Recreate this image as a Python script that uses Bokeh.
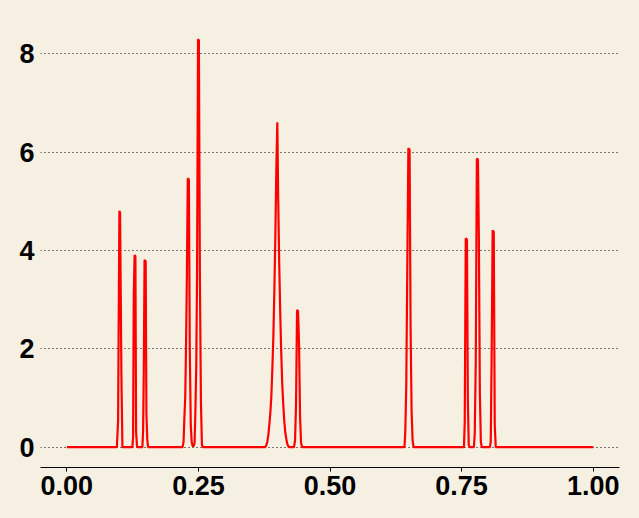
from bokeh.plotting import figure
from bokeh.models import Range1d, FixedTicker
from bokeh.embed import file_html
from bokeh.resources import INLINE

# ---- data (x in [0,1], y = signal value) ----
x_start = [0.0]
y_start = [0.0]

x_a = [0.0951, 0.0974, 0.0999, 0.1012, 0.1037, 0.1056]
y_a = [0.0, 0.53, 4.81, 4.76, 1.47, 0.0]

x_b = [0.1246, 0.1259, 0.1272, 0.1288, 0.1303, 0.1316, 0.1335]
y_b = [0.0, 0.21, 3.10, 3.91, 3.88, 0.31, 0.0]

x_c = [0.1436, 0.1449, 0.1462, 0.1477, 0.1498, 0.1512, 0.1529, 0.1544]
y_c = [0.0, 0.33, 1.50, 3.81, 3.78, 0.69, 0.14, 0.0]

x_d = [0.2199, 0.2218, 0.2233, 0.2250, 0.2266, 0.2281, 0.2298, 0.2319,
       0.2336, 0.2355, 0.2372, 0.2389]
y_d = [0.0, 0.11, 0.58, 1.02, 2.14, 3.50, 5.47, 5.44, 1.98, 0.45, 0.11, 0.02]

x_e = [0.2408, 0.2427, 0.2442, 0.2459, 0.2474, 0.2493, 0.2509, 0.2528,
       0.2548, 0.2567, 0.2588]
y_e = [0.02, 0.08, 0.69, 1.64, 3.50, 8.30, 8.27, 3.47, 0.92, 0.04, 0.0]

x_f = [0.3771, 0.3790, 0.3809, 0.3828, 0.3847, 0.3866, 0.3885, 0.3904,
       0.3923, 0.3942, 0.3961, 0.3980, 0.3999, 0.4016, 0.4035, 0.4054,
       0.4073, 0.4092, 0.4111, 0.4130, 0.4149, 0.4168, 0.4187, 0.4206,
       0.4225]
y_f = [0.0, 0.04, 0.11, 0.24, 0.45, 0.69, 1.02, 1.57, 2.21, 3.13, 4.25,
       5.64, 6.61, 5.03, 3.74, 2.76, 1.94, 1.30, 0.89, 0.55, 0.31, 0.18,
       0.07, 0.02, 0.0]

x_g = [0.4317, 0.4336, 0.4355, 0.4374, 0.4393, 0.4412, 0.4431, 0.4450, 0.4469]
y_g = [0.0, 0.14, 0.89, 2.79, 2.77, 2.08, 0.62, 0.09, 0.0]

x_h = [0.6415, 0.6430, 0.6449, 0.6468, 0.6489, 0.6512, 0.6531, 0.6550,
       0.6569, 0.6588]
y_h = [0.0, 0.31, 1.26, 3.60, 6.08, 6.05, 2.45, 0.74, 0.14, 0.0]

x_i = [0.7545, 0.7560, 0.7579, 0.7602, 0.7619, 0.7636, 0.7653]
y_i = [0.0, 0.52, 4.25, 4.22, 0.92, 0.04, 0.0]

x_j = [0.7734, 0.7750, 0.7769, 0.7790, 0.7811, 0.7828, 0.7847, 0.7866, 0.7883]
y_j = [0.0, 0.28, 1.70, 5.87, 5.85, 4.28, 1.09, 0.11, 0.0]

x_k = [0.8039, 0.8054, 0.8071, 0.8090, 0.8111, 0.8130, 0.8149]
y_k = [0.0, 0.11, 1.87, 4.41, 4.38, 0.45, 0.0]

x_end = [1.0]
y_end = [0.0]

x_ticks = [0.0, 0.25, 0.5, 0.75, 1.0]
x_tick_labels = ["0.00", "0.25", "0.50", "0.75", "1.00"]
y_ticks = [0, 2, 4, 6, 8]
y_tick_labels = ["0", "2", "4", "6", "8"]

xs = x_start + x_a + x_b + x_c + x_d + x_e + x_f + x_g + x_h + x_i + x_j + x_k + x_end
ys = y_start + y_a + y_b + y_c + y_d + y_e + y_f + y_g + y_h + y_i + y_j + y_k + y_end

BG = "#F6F0E2"
FONT = "Liberation Sans"

p = figure(width=639, height=518, output_backend="svg", toolbar_location=None,
           x_range=Range1d(-0.05, 1.05), y_range=Range1d(-0.415, 8.72),
           background_fill_color=BG, border_fill_color=BG,
           min_border_left=40, min_border_right=20, min_border_top=18,
           min_border_bottom=51)
p.outline_line_color = None

p.line(xs, ys, line_color="#FF0000", line_width=2.2)

# x axis
xa = p.xaxis[0]
xa.ticker = FixedTicker(ticks=x_ticks)
xa.major_label_overrides = {t: l for t, l in zip(x_ticks, x_tick_labels)}
xa.axis_line_color = "black"
xa.axis_line_width = 1
xa.major_tick_line_color = "black"
xa.major_tick_in = 0
xa.major_tick_out = 4
xa.minor_tick_line_color = None
xa.major_label_standoff = 4
xa.major_label_text_font = FONT
xa.major_label_text_font_style = "bold"
xa.major_label_text_font_size = "27px"
xa.major_label_text_color = "black"

# y axis
ya = p.yaxis[0]
ya.ticker = FixedTicker(ticks=y_ticks)
ya.major_label_overrides = {t: l for t, l in zip(y_ticks, y_tick_labels)}
ya.axis_line_color = None
ya.major_tick_line_color = None
ya.minor_tick_line_color = None
ya.major_tick_in = 0
ya.major_tick_out = 0
ya.major_label_standoff = 6
ya.major_label_text_font = FONT
ya.major_label_text_font_style = "bold"
ya.major_label_text_font_size = "27px"
ya.major_label_text_color = "black"

# grid
p.xgrid.grid_line_color = None
p.ygrid.grid_line_color = "black"
p.ygrid.grid_line_width = 1
p.ygrid.grid_line_dash = "1 3"

html = file_html(p, INLINE)
style = ("<style>html, body { margin: 0; padding: 0; overflow: hidden; "
         "background-color: %s; }</style></head>" % BG)
html = html.replace("</head>", style, 1)
open("out.html", "w").write(html)
